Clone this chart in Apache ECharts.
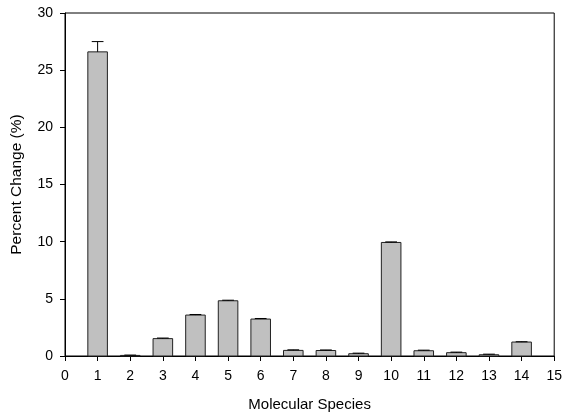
<!DOCTYPE html>
<html>
<head>
<meta charset="utf-8">
<script src="https://cdn.jsdelivr.net/npm/echarts@6/dist/echarts.min.js"></script>
<style>
  html, body { margin: 0; padding: 0; background: #fff; }
  #chart { width: 565px; height: 419px; }
</style>
</head>
<body>
<div id="chart"></div>
<script>
// Percent change per molecular species, with standard error
const species = [1, 2, 3, 4, 5, 6, 7, 8, 9, 10, 11, 12, 13, 14];
const percentChange = [26.6, 0.05, 1.52, 3.58, 4.83, 3.23, 0.49, 0.48, 0.2, 9.93, 0.46, 0.29, 0.11, 1.22];
const stdError = [0.9, 0.03, 0.05, 0.05, 0.05, 0.05, 0.05, 0.05, 0.05, 0.05, 0.05, 0.05, 0.05, 0.03];
const xTicks = [0, 15, 1];   // min, max, interval
const yTicks = [0, 30, 5];

const font = 'Liberation Sans, Arial, sans-serif';
const barWidthUnits = 0.6;

const chart = echarts.init(document.getElementById('chart'), null, { renderer: 'canvas' });

const data = species.map((s, i) => [s, percentChange[i], stdError[i]]);

chart.setOption({
  animation: false,
  grid: {
    left: 65, right: 9, top: 13, bottom: 63,
    show: true, borderColor: '#000', borderWidth: 1, backgroundColor: 'transparent'
  },
  xAxis: {
    type: 'value', min: xTicks[0], max: xTicks[1], interval: xTicks[2],
    name: 'Molecular Species', nameLocation: 'middle', nameGap: 41,
    nameTextStyle: { fontFamily: font, fontSize: 15, color: '#000' },
    axisLine: { show: true, lineStyle: { color: '#000', width: 1 } },
    axisTick: { show: true, length: 5, lineStyle: { color: '#000' } },
    axisLabel: { fontFamily: font, fontSize: 14, color: '#000', margin: 13 },
    splitLine: { show: false }
  },
  yAxis: {
    type: 'value', min: yTicks[0], max: yTicks[1], interval: yTicks[2],
    name: 'Percent Change (%)', nameLocation: 'middle', nameGap: 40,
    nameTextStyle: { fontFamily: font, fontSize: 15.5, color: '#000' },
    axisLine: { show: true, lineStyle: { color: '#000', width: 1 } },
    axisTick: { show: true, length: 5, lineStyle: { color: '#000' } },
    axisLabel: { fontFamily: font, fontSize: 14, color: '#000', margin: 12 },
    splitLine: { show: false }
  },
  series: [{
    type: 'custom',
    data: data,
    clip: false,
    renderItem: function (params, api) {
      const x = api.value(0), y = api.value(1), err = api.value(2);
      const base = api.coord([x, 0]);
      const top = api.coord([x, y]);
      const w = api.size([barWidthUnits, 0])[0];
      const errTop = api.coord([x, y + err]);
      const capHalf = w * 0.3;
      return {
        type: 'group',
        children: [
          {
            type: 'rect',
            shape: { x: base[0] - w / 2, y: top[1], width: w, height: base[1] - top[1] },
            style: { fill: '#c0c0c0', stroke: '#222', lineWidth: 1 }
          },
          {
            type: 'line',
            shape: { x1: top[0], y1: top[1], x2: errTop[0], y2: errTop[1] },
            style: { stroke: '#000', lineWidth: 1 }
          },
          {
            type: 'line',
            shape: { x1: errTop[0] - capHalf, y1: errTop[1], x2: errTop[0] + capHalf, y2: errTop[1] },
            style: { stroke: '#000', lineWidth: 1 }
          }
        ]
      };
    }
  }]
});
</script>
</body>
</html>
